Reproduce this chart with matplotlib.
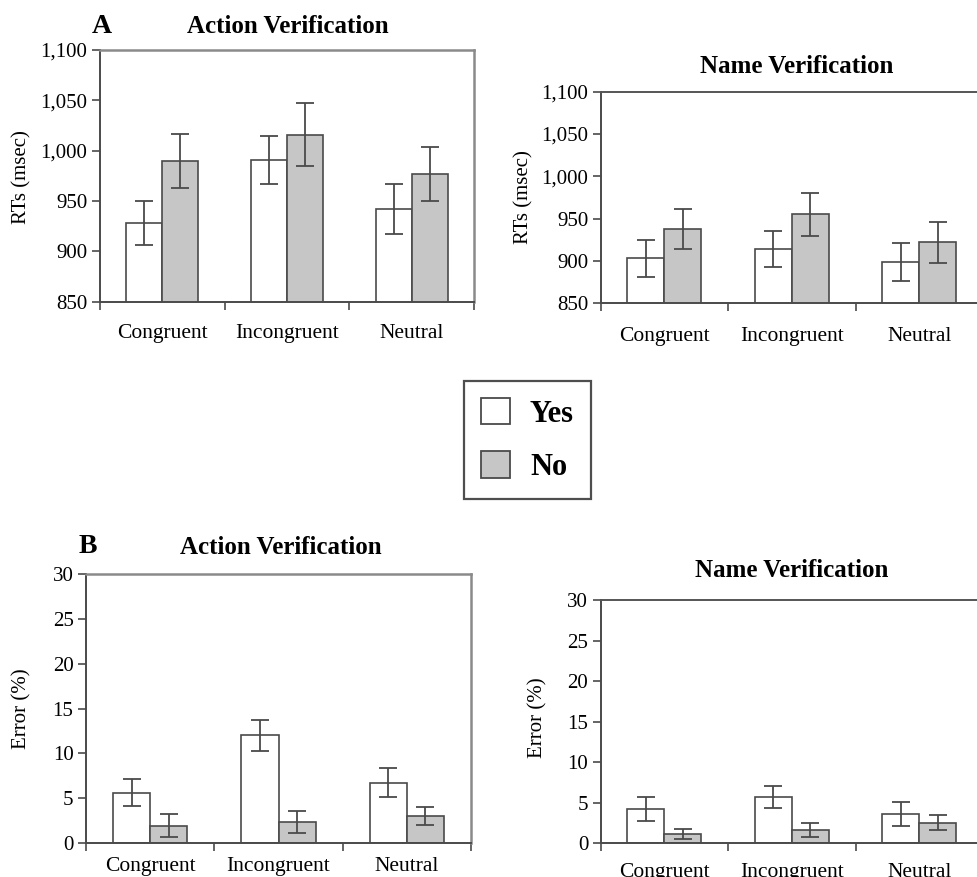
import numpy as np
import matplotlib
matplotlib.use('Agg')
import matplotlib.pyplot as plt
from matplotlib.ticker import FuncFormatter
from matplotlib.patches import Patch

#==============================================================================
#DATA
#==============================================================================

categories = ['Congruent', 'Incongruent', 'Neutral']

# RTs (msec) - A
action_rt_yes = [928, 991, 942]
action_rt_yes_err = [22, 24, 25]
action_rt_no = [990, 1016, 977]
action_rt_no_err = [27, 31, 27]

name_rt_yes = [903, 914, 899]
name_rt_yes_err = [21.5, 21.5, 22.5]
name_rt_no = [938, 955, 922]
name_rt_no_err = [24, 25.5, 24]

# Error (%) - B
action_err_yes = [5.6, 12.0, 6.7]
action_err_yes_err = [1.55, 1.7, 1.6]
action_err_no = [1.9, 2.3, 3.0]
action_err_no_err = [1.3, 1.25, 1.0]

name_err_yes = [4.2, 5.7, 3.6]
name_err_yes_err = [1.5, 1.35, 1.45]
name_err_no = [1.15, 1.65, 2.55]
name_err_no_err = [0.65, 0.9, 0.9]

rt_ticks = [850, 900, 950, 1000, 1050, 1100]
err_ticks = [0, 5, 10, 15, 20, 25, 30]

#==============================================================================
#SETTINGS
#==============================================================================

W, H = 977, 877
plt.rcParams['font.family'] = ['Liberation Serif', 'DejaVu Serif']

fill_no = '#c6c6c6'
edge = '#4a4a4a'
bar_w = 0.29

def px(x, y):
    return x / W, 1 - y / H

def box(x0, y0, x1, y1):
    return [x0 / W, 1 - y1 / H, (x1 - x0) / W, (y1 - y0) / H]

def panel(ax, yes, yes_e, no, no_e, ylim, ticks, fmt, light_frame):
    x = np.arange(len(categories))
    ekw = dict(ecolor=edge, elinewidth=1.3, capsize=6.5, capthick=1.3)
    ax.bar(x - bar_w / 2, yes, bar_w, yerr=yes_e, color='white',
           edgecolor=edge, linewidth=1.2, error_kw=ekw)
    ax.bar(x + bar_w / 2, no, bar_w, yerr=no_e, color=fill_no,
           edgecolor=edge, linewidth=1.2, error_kw=ekw)
    ax.set_xlim(-0.5, 2.5)
    ax.set_ylim(*ylim)
    ax.set_yticks(ticks)
    ax.yaxis.set_major_formatter(FuncFormatter(fmt))
    ax.set_xticks([-0.5, 0.5, 1.5, 2.5])
    ax.set_xticklabels([])
    ax.set_xticks(x, minor=True)
    ax.set_xticklabels(categories, minor=True, fontsize=15.5)
    ax.tick_params(axis='x', which='major', direction='out', length=6,
                   width=1.2, color=edge)
    ax.tick_params(axis='x', which='minor', length=0)
    ax.tick_params(axis='y', direction='out', length=6, width=1.2,
                   color=edge, labelsize=15, pad=3)
    for s in ['left', 'bottom']:
        ax.spines[s].set_color(edge)
        ax.spines[s].set_linewidth(1.4)
    if light_frame:
        for s in ['top', 'right']:
            ax.spines[s].set_color('#8a8a8a')
            ax.spines[s].set_linewidth(1.8)
    else:
        ax.spines['top'].set_color('#555555')
        ax.spines['top'].set_linewidth(1.4)
        ax.spines['right'].set_visible(False)

#==============================================================================
#PLOTTING
#==============================================================================

f = plt.figure(figsize=(W / 100, H / 100), dpi=100)

rt_fmt = lambda v, p: '{:,.0f}'.format(v)
err_fmt = lambda v, p: '{:.0f}'.format(v)

ax1 = f.add_axes(box(100, 50, 474, 301.7))
panel(ax1, action_rt_yes, action_rt_yes_err, action_rt_no, action_rt_no_err,
      (850, 1100), rt_ticks, rt_fmt, True)
ax1.tick_params(axis='x', which='minor', pad=16)

ax2 = f.add_axes(box(600.7, 91.7, 983, 303.3))
panel(ax2, name_rt_yes, name_rt_yes_err, name_rt_no, name_rt_no_err,
      (850, 1100), rt_ticks, rt_fmt, False)
ax2.tick_params(axis='x', which='minor', pad=17)

ax3 = f.add_axes(box(86, 574.3, 471, 842.7))
panel(ax3, action_err_yes, action_err_yes_err, action_err_no, action_err_no_err,
      (0, 30), err_ticks, err_fmt, True)
ax3.tick_params(axis='x', which='minor', pad=10)

ax4 = f.add_axes(box(600.7, 600, 983, 843.3))
panel(ax4, name_err_yes, name_err_yes_err, name_err_no, name_err_no_err,
      (0, 30), err_ticks, err_fmt, False)
ax4.tick_params(axis='x', which='minor', pad=14)

#labels
tkw = dict(fontsize=18, fontweight='bold', ha='center', va='baseline')
f.text(*px(287.5, 33), 'Action Verification', **tkw)
f.text(*px(796.5, 73), 'Name Verification', **tkw)
f.text(*px(281, 554), 'Action Verification', **tkw)
f.text(*px(792, 577), 'Name Verification', **tkw)
f.text(*px(92, 33), 'A', fontsize=20, fontweight='bold', ha='left', va='baseline')
f.text(*px(79, 553), 'B', fontsize=20, fontweight='bold', ha='left', va='baseline')

ykw = dict(fontsize=15, rotation=90, ha='center', va='center')
f.text(*px(22, 177.5), 'RTs (msec)', **ykw)
f.text(*px(524, 197.5), 'RTs (msec)', **ykw)
f.text(*px(22, 709), 'Error (%)', **ykw)
f.text(*px(538, 717.5), 'Error (%)', **ykw)

#legend
handles = [Patch(facecolor='white', edgecolor=edge, linewidth=1.3, label='Yes'),
           Patch(facecolor=fill_no, edgecolor=edge, linewidth=1.3, label='No')]
leg = f.legend(handles=handles, loc='center', bbox_to_anchor=px(527.5, 440),
               prop={'family': 'Liberation Serif', 'weight': 'bold', 'size': 22},
               frameon=True, fancybox=False, edgecolor='#222222',
               handlelength=0.95, handleheight=0.95, handletextpad=0.65,
               labelspacing=0.75, borderpad=0.55, borderaxespad=0)
leg.get_frame().set_linewidth(1.6)

f.savefig('out.png', dpi=100)
